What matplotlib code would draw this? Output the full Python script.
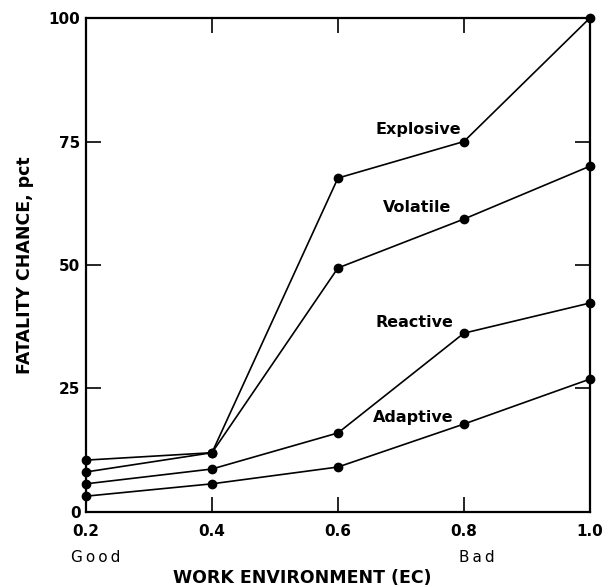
import matplotlib
matplotlib.use("Agg")
import matplotlib.pyplot as plt

plt.rcParams['font.family'] = ['DejaVu Sans']

x = [0.2, 0.4, 0.6, 0.8, 1.0]
explosive = [10.5, 12.0, 67.6, 75.0, 100.0]
volatile = [8.1, 12.0, 49.4, 59.3, 70.0]
reactive = [5.7, 8.7, 16.0, 36.2, 42.3]
adaptive = [3.2, 5.7, 9.1, 17.8, 26.9]
series = {"Explosive": explosive, "Volatile": volatile,
          "Reactive": reactive, "Adaptive": adaptive}
label_pos = {"Explosive": (0.659, 77.5), "Volatile": (0.671, 61.7),
             "Reactive": (0.660, 38.3), "Adaptive": (0.656, 19.2)}

xticks = [0.2, 0.4, 0.6, 0.8, 1.0]
xticklabels = ["0.2", "0.4", "0.6", "0.8", "1.0"]
yticks = [0, 25, 50, 75, 100]
yticklabels = ["0", "25", "50", "75", "100"]

fig = plt.figure(figsize=(6.10, 5.87), dpi=100)
ax = fig.add_axes([0.141, 0.1278, 0.826, 0.8415])

for name, vals in series.items():
    ax.plot(x, vals, color='black', lw=1.2, marker='o', markersize=6,
            clip_on=False, zorder=3)
    lx, ly = label_pos[name]
    ax.text(lx, ly, name, fontsize=11.5, fontweight='bold', ha='left',
            va='center', color='black')

ax.set_xlim(0.2, 1.0)
ax.set_ylim(0, 100)
ax.set_xticks(xticks)
ax.set_xticklabels(xticklabels)
ax.set_yticks(yticks)
ax.set_yticklabels(yticklabels)
for lab in ax.get_xticklabels() + ax.get_yticklabels():
    lab.set_fontweight('bold')
    lab.set_fontsize(11)
ax.tick_params(direction='in', length=11, width=1.2, top=True, right=True,
               colors='black')
ax.tick_params(axis='x', pad=9)
ax.tick_params(axis='y', pad=4)
for s in ax.spines.values():
    s.set_linewidth(1.6)

fig.text(0.041, 0.549, "FATALITY CHANCE, pct", fontsize=12.5,
         fontweight='bold', rotation=90, ha='center', va='center')
fig.text(0.116, 0.051, "G\u2009o\u2009o\u2009d", fontsize=11, ha='left',
         va='center')
fig.text(0.752, 0.051, "B\u2009a\u2009d", fontsize=11, ha='left',
         va='center')
fig.text(0.495, 0.016, "WORK ENVIRONMENT (EC)", fontsize=12.5,
         fontweight='bold', ha='center', va='center')

fig.savefig("out.png", dpi=100)
